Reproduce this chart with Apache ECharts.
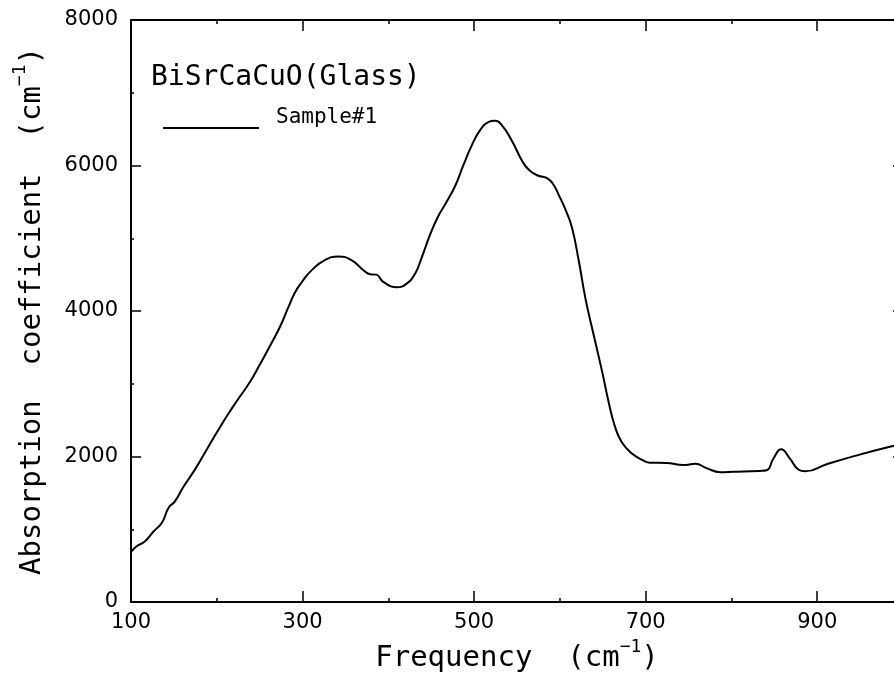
<!DOCTYPE html>
<html>
<head>
<meta charset="utf-8">
<title>BiSrCaCuO(Glass)</title>
<script src="https://cdn.jsdelivr.net/npm/echarts@6/dist/echarts.min.js"></script>
<style>
html, body { margin: 0; padding: 0; background: #fff; overflow: hidden; }
#chart { width: 894px; height: 676px; }
</style>
</head>
<body>
<div id="chart"></div>
<script>
// frequency (cm-1)
var freq = [100, 107, 116, 126, 136, 144, 151, 161, 175, 188, 200, 212, 225, 239, 250, 262, 274, 283, 291,
  299, 311, 326, 342, 357, 371, 379, 386, 394, 410, 421, 431, 439, 449, 458, 467, 478, 487, 497, 507,
  517, 524, 532, 544, 557, 565, 575, 585, 592, 600, 607, 614, 622, 630, 639, 649, 657, 664, 672, 684,
  697, 705, 724, 744, 758, 771, 787, 802, 833, 841, 849, 858, 868, 878, 886, 911, 942, 989, 1000];
// absorption coefficient (cm-1)
var absorb = [690, 770, 830, 965, 1090, 1300, 1380, 1580, 1830, 2090, 2330, 2560, 2790, 3030, 3260, 3520, 3790, 4040, 4250,
  4395, 4565, 4700, 4748, 4700, 4560, 4505, 4500, 4400, 4327, 4373, 4510, 4738, 5059, 5300, 5480, 5722, 5990, 6270, 6486,
  6600, 6614, 6559, 6339, 6042, 5927, 5859, 5827, 5745, 5562, 5380, 5150, 4690, 4160, 3690, 3180, 2740, 2420, 2200, 2040,
  1948, 1915, 1911, 1882, 1900, 1840, 1785, 1790, 1802, 1811, 1973, 2099, 1973, 1821, 1796, 1893, 2002, 2146, 2170];

var xTickLabels = [100, 300, 500, 700, 900];
var yTickLabels = [0, 2000, 4000, 6000, 8000];
var seriesName = 'Sample#1';
var plotTitle = 'BiSrCaCuO(Glass)';

var textFont = 'DejaVu Sans Mono';
var numFont = 'DejaVu Sans';

var points = freq.map(function (f, i) {
  return [f, absorb[i]];
});

function xAxisOf(pos, withLabels) {
  return {
    type: 'value',
    position: pos,
    min: 100,
    max: 1000,
    interval: 200,
    axisLine: { show: true, onZero: false, lineStyle: { color: '#000', width: 2 } },
    axisTick: { show: true, inside: true, length: 11, customValues: xTickLabels, lineStyle: { color: '#000', width: 1.5 } },
    minorTick: { show: true, splitNumber: 2, length: 4, lineStyle: { color: '#000', width: 1.5 } },
    axisLabel: {
      show: withLabels,
      customValues: xTickLabels,
      margin: 10,
      color: '#000',
      fontFamily: numFont,
      fontSize: 21
    },
    splitLine: { show: false }
  };
}

function yAxisOf(pos, withLabels) {
  return {
    type: 'value',
    position: pos,
    min: 0,
    max: 8000,
    interval: 2000,
    axisLine: { show: true, onZero: false, lineStyle: { color: '#000', width: 2 } },
    axisTick: { show: true, inside: true, length: 10, lineStyle: { color: '#000', width: 1.5 } },
    minorTick: { show: true, splitNumber: 2, length: 3, lineStyle: { color: '#000', width: 1.5 } },
    axisLabel: {
      show: withLabels,
      customValues: yTickLabels,
      margin: 13,
      color: '#000',
      fontFamily: numFont,
      fontSize: 21,
      formatter: function (v) { return String(v); }
    },
    splitLine: { show: false }
  };
}

// superscript: small token pinned to the top of a tall line
var supStyle = { fontFamily: textFont, fontSize: 18, verticalAlign: 'top', lineHeight: 18, color: '#000' };

var bottomX = xAxisOf('bottom', true);
bottomX.name = 'Frequency  (cm{sup|\u22121})';
bottomX.nameLocation = 'middle';
bottomX.nameGap = 30;
bottomX.nameTextStyle = { fontFamily: textFont, fontSize: 29, lineHeight: 42, color: '#000', rich: { sup: supStyle } };

var leftY = yAxisOf('left', true);
leftY.name = 'Absorption  coefficient  (cm{sup|\u22121})';
leftY.nameLocation = 'middle';
leftY.nameGap = 74;
leftY.nameTextStyle = { fontFamily: textFont, fontSize: 29, lineHeight: 42, color: '#000', rich: { sup: supStyle } };

var chart = echarts.init(document.getElementById('chart'));

chart.setOption({
  backgroundColor: '#fff',
  animation: false,
  title: {
    text: plotTitle,
    left: 151,
    top: 64,
    padding: 0,
    textStyle: { fontFamily: textFont, fontSize: 28, fontWeight: 'normal', color: '#000' }
  },
  legend: {
    data: [seriesName],
    left: 163,
    top: 107,
    padding: 0,
    // line drawn at the bottom of a taller icon so the text sits above it
    icon: 'path://M0,20 L96,20 L96,22 L0,22 Z M108,0 L108,0',
    itemWidth: 108,
    itemHeight: 22,
    itemStyle: { color: '#000', borderWidth: 0 },
    textStyle: { fontFamily: textFont, fontSize: 21, color: '#000' },
    selectedMode: false
  },
  grid: {
    left: 131,
    right: -9,
    top: 20,
    bottom: 74,
    containLabel: false,
    outerBoundsMode: 'none'
  },
  xAxis: [bottomX, xAxisOf('top', false)],
  yAxis: [leftY, yAxisOf('right', false)],
  series: [
    {
      name: seriesName,
      type: 'line',
      xAxisIndex: 0,
      yAxisIndex: 0,
      data: points,
      symbol: 'none',
      showSymbol: false,
      smooth: 0.5,
      lineStyle: { color: '#000', width: 2 },
      itemStyle: { color: '#000' }
    }
  ]
});
</script>
</body>
</html>
